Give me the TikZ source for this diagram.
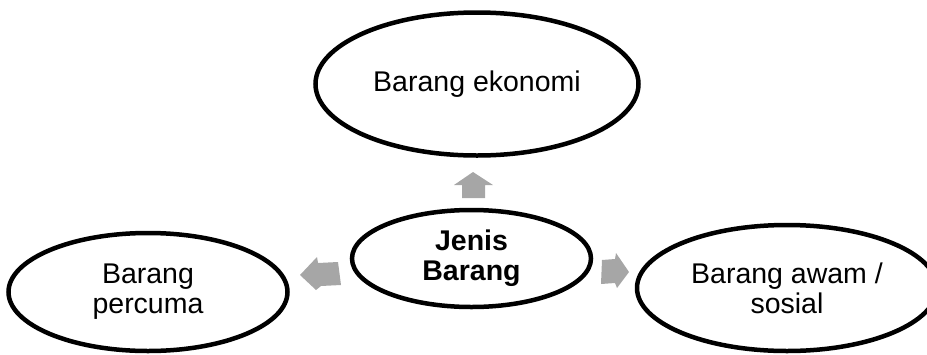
\documentclass[tikz,border=0pt]{standalone}
\usepackage{fontspec}
\setmainfont{Liberation Sans}
\usetikzlibrary{shapes.geometric}
\begin{document}
\begin{tikzpicture}[x=1pt,y=-1pt,
  oval/.style={ellipse, draw=black, line width=4.5pt, fill=white, inner sep=0pt, align=center,
    font=\fontsize{28.5}{30}\selectfont},
  blockarrow/.style={fill=black!35, draw=none}]
\useasboundingbox (0,0) rectangle (927,354);
\node[oval, minimum width=323pt, minimum height=143pt] (eko) at (477,84) {Barang ekonomi};
\node[oval, minimum width=239pt, minimum height=97pt, font=\fontsize{28.5}{30}\selectfont\bfseries] (jenis) at (471.5,258.5) {Jenis\\Barang};
\node[oval, minimum width=279pt, minimum height=118pt] (percuma) at (148,292) {Barang\\percuma};
\node[oval, minimum width=300pt, minimum height=126pt] (awam) at (787,288) {Barang awam /\\sosial};
% up arrow
\fill[blockarrow] (473,172) -- (493,185) -- (485,185) -- (485,198) -- (462,198) -- (462,185) -- (454,185) -- cycle;
% left arrow
\fill[blockarrow] (300,275) -- (317,257) -- (318,263) -- (338,262) -- (341,285) -- (321,286) -- (316,290) -- cycle;
% right arrow
\fill[blockarrow] (602,260) -- (615,259) -- (616,253) -- (629,272) -- (617,288) -- (615,283) -- (601,284) -- cycle;
\end{tikzpicture}
\end{document}
